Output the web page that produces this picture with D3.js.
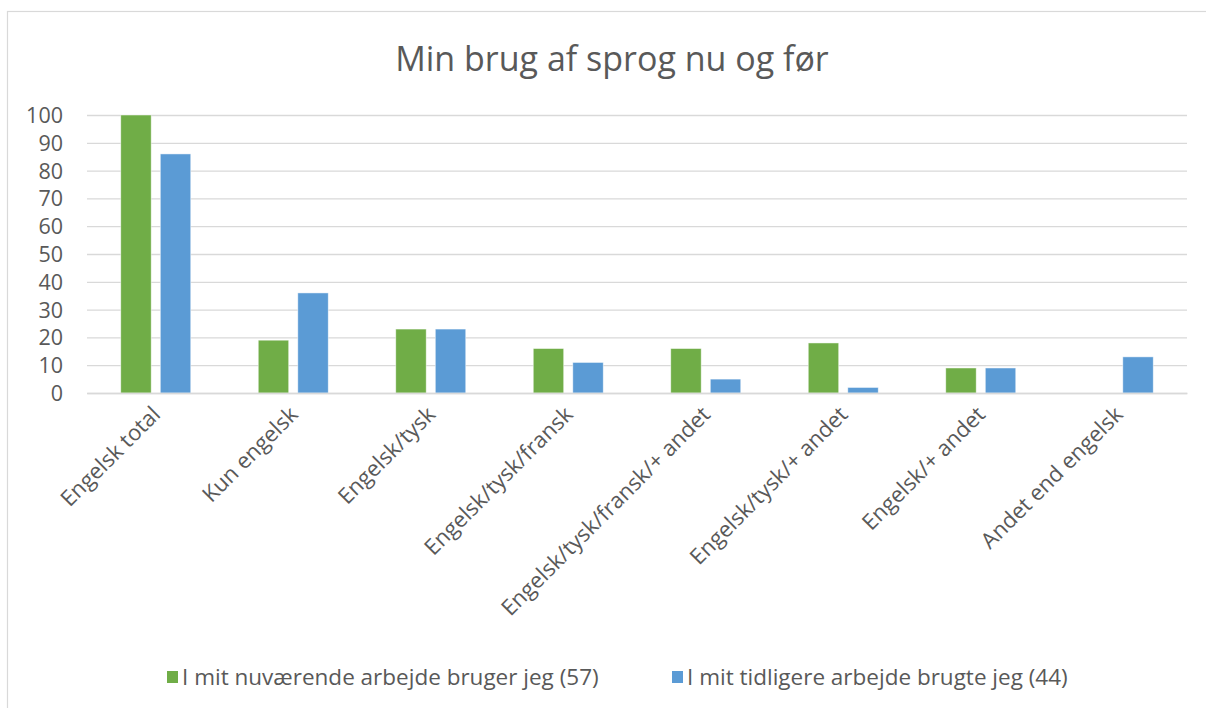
<!DOCTYPE html>
<html>
<head>
<meta charset="utf-8">
<script src="https://cdn.jsdelivr.net/npm/d3@7"></script>
<style>
  html, body { margin: 0; padding: 0; background: #fff; }
  svg { display: block; font-family: "Open Sans", Lato, sans-serif; }
</style>
</head>
<body>
<svg id="chart" width="1206" height="708"></svg>
<script>
const title = "Min brug af sprog nu og før";
const categories = ["Engelsk total", "Kun engelsk", "Engelsk/tysk", "Engelsk/tysk/fransk",
  "Engelsk/tysk/fransk/+ andet", "Engelsk/tysk/+ andet", "Engelsk/+ andet", "Andet end engelsk"];
const seriesNames = ["I mit nuværende arbejde bruger jeg (57)", "I mit tidligere arbejde brugte jeg (44)"];
const currentValues = [100, 19, 23, 16, 16, 18, 9, null];
const previousValues = [86, 36, 23, 11, 5, 2, 9, 13];
const seriesColors = ["#70ad47", "#5b9bd5"];
const yTicks = [0, 10, 20, 30, 40, 50, 60, 70, 80, 90, 100];

const FONT = "'Open Sans', Lato, sans-serif";
const svg = d3.select("#chart");
const W = 1206, H = 708;
const plot = { left: 87, right: 1187, top: 115, bottom: 393 };

// chart border
svg.append("rect").attr("x", 7.5).attr("y", 11.5).attr("width", W + 20).attr("height", H + 20)
  .attr("fill", "#fff").attr("stroke", "#d9d9d9").attr("stroke-width", 1.2);

// title
svg.append("text").attr("x", 612).attr("y", 71).attr("text-anchor", "middle")
  .attr("font-size", 34).attr("fill", "#595959").attr("font-family", FONT).text(title);

const x0 = d3.scaleBand().domain(categories).range([plot.left, plot.right]).paddingInner(0).paddingOuter(0);
const step = x0.bandwidth();
const groupW = 70;
const x1 = d3.scaleBand().domain([0, 1]).range([0, groupW]).paddingInner(0.23);
const y = d3.scaleLinear().domain([0, 100]).range([plot.bottom, plot.top]);

// gridlines + y labels
const yAxis = d3.axisLeft(y).tickValues(yTicks).tickSize(-(plot.right - plot.left)).tickPadding(24);
const gy = svg.append("g").attr("transform", `translate(${plot.left},0)`).call(yAxis);
gy.select(".domain").remove();
gy.selectAll(".tick line").attr("stroke", "#d9d9d9").attr("stroke-width", 1.3);
gy.selectAll(".tick text").attr("font-size", 21.5).attr("fill", "#595959")
  .attr("font-family", FONT).attr("dy", "0.35em");

// bars
const data = categories.map((c, i) => ({ cat: c, vals: [currentValues[i], previousValues[i]] }));
const groups = svg.append("g").selectAll("g").data(data).join("g")
  .attr("transform", d => `translate(${x0(d.cat) + (step - groupW) / 2},0)`);
groups.selectAll("rect").data(d => d.vals.map((v, k) => ({ v, k })).filter(e => e.v !== null))
  .join("rect")
  .attr("x", e => x1(e.k)).attr("width", x1.bandwidth())
  .attr("y", e => y(e.v)).attr("height", e => y(0) - y(e.v))
  .attr("fill", e => seriesColors[e.k])
  .attr("stroke", "#ffffff").attr("stroke-opacity", 0.6).attr("stroke-width", 0.8);

// x axis
const xAxis = d3.axisBottom(x0).tickSize(0).tickPadding(0);
const gx = svg.append("g").attr("transform", `translate(0,${plot.bottom})`).call(xAxis);
gx.select(".domain").attr("stroke", "#d9d9d9").attr("stroke-width", 1.3);
gx.selectAll(".tick text")
  .attr("font-size", 22).attr("fill", "#595959").attr("font-family", FONT)
  .attr("text-anchor", "end")
  .attr("transform", "translate(-5,12) rotate(-45)")
  .attr("dy", "0.7em").attr("y", 0).attr("x", 0);

// legend
const legendItems = [
  { name: seriesNames[0], color: seriesColors[0], x: 167 },
  { name: seriesNames[1], color: seriesColors[1], x: 672 }
];
const lg = svg.append("g").selectAll("g").data(legendItems).join("g")
  .attr("transform", d => `translate(${d.x},677)`);
lg.append("rect").attr("x", 0).attr("y", -6).attr("width", 11).attr("height", 12).attr("fill", d => d.color);
lg.append("text").attr("x", 15).attr("y", 0).attr("dy", "0.35em").attr("font-family", FONT)
  .attr("font-size", 22.5).attr("fill", "#595959").text(d => d.name);
</script>
</body>
</html>
